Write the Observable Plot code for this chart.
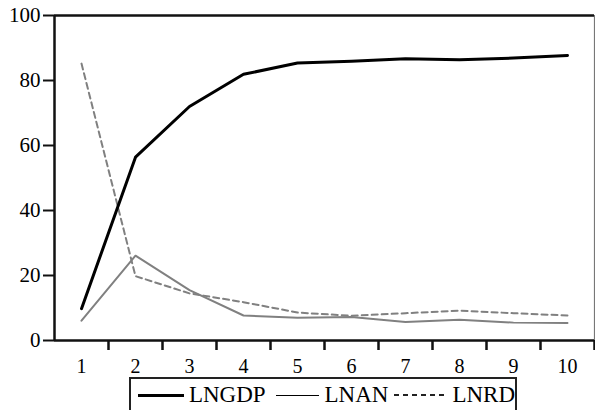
<!DOCTYPE html>
<html>
<head>
<meta charset="utf-8">
<script src="https://cdn.jsdelivr.net/npm/d3@7"></script>
<script src="https://cdn.jsdelivr.net/npm/@observablehq/plot@0.6"></script>
<style>
  html, body { margin: 0; padding: 0; background: #fff; overflow: hidden; }
  #wrap { position: relative; width: 595px; height: 410px; font-family: 'Liberation Serif', serif; }
  #legend {
    position: absolute; left: 129px; top: 377px; width: 388px;
    box-sizing: border-box; border: 2px solid #222; border-bottom: none;
    display: flex; align-items: center; height: 34px; padding-left: 7px;
    font-family: 'Liberation Serif', serif;
    font-size: 23px; line-height: 30px; color: #000;
  }
  .sample { display: inline-block; height: 0; }
  .s-thick { width: 46px; border-top: 3px solid #000; margin-right: 5px; }
  .s-thin { width: 43px; border-top: 1.5px solid #000; margin-left: 10px; margin-right: 6px; }
  .s-dash { width: 52px; height: 1.5px; margin-left: 6px; margin-right: 6px;
    background: repeating-linear-gradient(to right, #222 0 5px, transparent 5px 9px); }
</style>
</head>
<body>
<div id="wrap"></div>
<script>
const periods = [1, 2, 3, 4, 5, 6, 7, 8, 9, 10];
const lngdp = [9.8, 56.4, 72.0, 81.9, 85.4, 85.9, 86.7, 86.4, 86.9, 87.7];
const lnan  = [6.1, 26.1, 15.5, 7.7, 7.0, 7.2, 5.7, 6.4, 5.5, 5.4];
const lnrd  = [85.2, 19.8, 14.5, 11.8, 8.6, 7.6, 8.4, 9.2, 8.4, 7.7];
const yTicks = [0, 20, 40, 60, 80, 100];
const bandEdges = [1.5, 2.5, 3.5, 4.5, 5.5, 6.5, 7.5, 8.5, 9.5, 10.5];
const serif = "Liberation Serif";

const chart = Plot.plot({
  width: 595,
  height: 377,
  marginLeft: 54,
  marginRight: 1,
  marginTop: 15,
  marginBottom: 37,
  style: { fontFamily: serif, fontSize: "20px", color: "#000", background: "#fff" },
  x: { domain: [0.5, 10.5] },
  y: { domain: [0, 100] },
  marks: [
    Plot.ruleX([10.5], { stroke: "#777", strokeWidth: 1.2 }),
    Plot.line(periods, { x: d => d, y: (d, i) => lnan[i], stroke: "#808080", strokeWidth: 2 }),
    Plot.line(periods, { x: d => d, y: (d, i) => lnrd[i], stroke: "#808080", strokeWidth: 2, strokeDasharray: "6,4" }),
    Plot.line(periods, { x: d => d, y: (d, i) => lngdp[i], stroke: "#000", strokeWidth: 3 }),
    Plot.ruleY([100], { stroke: "#111", strokeWidth: 2.5 }),
    Plot.ruleY([0], { stroke: "#111", strokeWidth: 2.5 }),
    Plot.ruleX([0.5], { stroke: "#111", strokeWidth: 2.5 }),
    Plot.axisY({ ticks: yTicks, tickSize: 11, tickPadding: 3, stroke: "#111", strokeWidth: 2, fontSize: 21, fontFamily: serif, fill: "#000", label: null }),
    Plot.axisX({ ticks: bandEdges, tickSize: 10, tickFormat: () => "", stroke: "#111", strokeWidth: 2.5, label: null }),
    Plot.axisX({ ticks: periods, tickSize: 0, tickPadding: 18, fontSize: 20, fontFamily: serif, fill: "#000", label: null })
  ]
});
document.getElementById("wrap").appendChild(chart);

const legend = document.createElement("div");
legend.id = "legend";
legend.innerHTML =
  '<span class="sample s-thick"></span><span>LNGDP</span>' +
  '<span class="sample s-thin"></span><span>LNAN</span>' +
  '<span class="sample s-dash"></span><span>LNRD</span>';
document.getElementById("wrap").appendChild(legend);
</script>
</body>
</html>
